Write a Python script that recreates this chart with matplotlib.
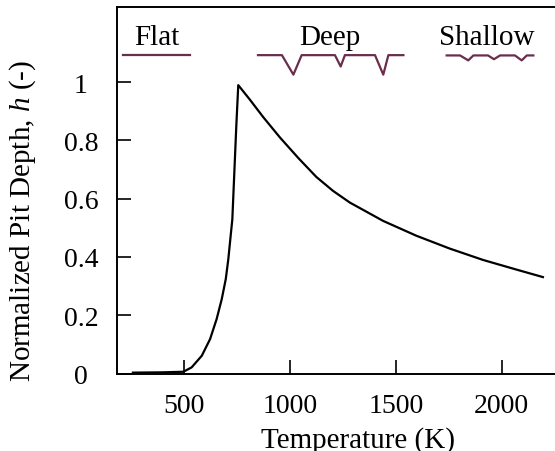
import matplotlib
matplotlib.use("Agg")
import matplotlib.pyplot as plt

plt.rcParams['font.family'] = ['Liberation Serif', 'DejaVu Serif']
plt.rcParams['mathtext.fontset'] = 'custom'
plt.rcParams['mathtext.rm'] = 'Liberation Serif'
plt.rcParams['mathtext.it'] = 'Liberation Serif:italic'

# curve
temperature = [260, 400, 498, 537, 585, 624, 655, 679, 698, 710, 721, 729, 738, 748, 757,
               812, 875, 954, 1040, 1125, 1204, 1283, 1440, 1597, 1754, 1911, 2068, 2194]
pit_depth = [0.003, 0.004, 0.006, 0.021, 0.061, 0.118, 0.187, 0.255, 0.324, 0.392, 0.472, 0.529,
             0.683, 0.854, 0.99, 0.94, 0.88, 0.81, 0.74, 0.675, 0.627, 0.587, 0.524, 0.473,
             0.429, 0.39, 0.357, 0.331]

x_ticks = [500, 1000, 1500, 2000]
y_ticks = [0, 0.2, 0.4, 0.6, 0.8, 1]
y_tick_labels = ['0', '0.2', '0.4', '0.6', '0.8', '1']

# surface sketches at the top (schematic, data coords)
regime_names = ['Flat', 'Deep', 'Shallow']
regime_text_x = [371, 1190, 1930]
flat_T = [213, 530]
flat_h = [1.093, 1.093]
deep_T = [850, 963, 1017, 1056, 1213, 1240, 1260, 1402, 1441, 1465, 1536]
deep_h = [1.093, 1.093, 1.026, 1.093, 1.093, 1.054, 1.093, 1.093, 1.026, 1.093, 1.093]
shallow_T = [1740, 1803, 1842, 1866, 1935, 1963, 1992, 2062, 2094, 2118, 2149]
shallow_h = [1.092, 1.092, 1.075, 1.092, 1.092, 1.079, 1.092, 1.092, 1.075, 1.092, 1.092]
sketch_color = '#6b2d4e'

fig = plt.figure(figsize=(5.55, 4.52), dpi=100)
ax = fig.add_axes([117 / 555, 77.5 / 452, 438 / 555, 367 / 452])

ax.plot(temperature, pit_depth, color='black', lw=1.6)

ax.plot(flat_T, flat_h, color=sketch_color, lw=1.6)
ax.plot(deep_T, deep_h, color=sketch_color, lw=1.6)
ax.plot(shallow_T, shallow_h, color=sketch_color, lw=1.6)
for name, tx in zip(regime_names, regime_text_x):
    ax.text(tx, 1.132, name, ha='center', va='baseline', fontsize=21)

ax.set_xlim(185, 2251)
ax.set_ylim(0, 1.26)
ax.set_xticks(x_ticks)
ax.set_yticks(y_ticks)
ax.set_yticklabels(y_tick_labels)
ax.tick_params(direction='in', length=10, width=1.2, labelsize=20, top=False, right=False)
ax.tick_params(axis='x', pad=14)
ax.tick_params(axis='y', pad=26)
for lab in ax.get_yticklabels():
    lab.set_horizontalalignment('center')
ax.spines['right'].set_visible(False)
for s in ['left', 'bottom', 'top']:
    ax.spines[s].set_linewidth(1.4)

ax.set_xlabel('Temperature (K)', fontsize=21)
ax.set_ylabel(r'Normalized Pit Depth, $\mathit{h}$ (-)', fontsize=21)
ax.xaxis.set_label_coords(0.55, -0.142)
ax.yaxis.set_label_coords(-0.18, 0.418)

fig.savefig('out.png', dpi=100)
